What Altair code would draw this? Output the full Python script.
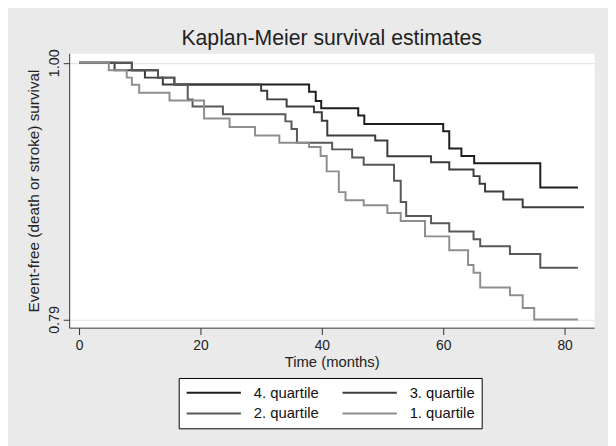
import altair as alt
import pandas as pd

groups = ["4. quartile", "3. quartile", "2. quartile", "1. quartile"]
colors = ["#1e1e1e", "#3c3c3c", "#585858", "#8e8e8e"]

q4_time = [0, 8.7, 13.0, 15.7, 37.9, 39.0, 39.9, 46.0, 47.0, 60.0, 61.0, 63.0, 65.1, 76.0, 82.2]
q4_surv = [1.0, 0.9939, 0.9879, 0.9822, 0.9763, 0.9688, 0.9628, 0.9570, 0.9499, 0.9440, 0.9299, 0.9238, 0.9178, 0.8980, 0.8980]

q3_time = [0, 5.85, 10.85, 13.8, 30.0, 31.0, 34.2, 38.7, 40.0, 40.9, 48.8, 50.8, 58.0, 61.0, 65.0, 66.0, 66.9, 69.9, 73.1, 83.2]
q3_surv = [1.0, 0.9939, 0.9879, 0.9822, 0.9771, 0.9701, 0.9642, 0.9596, 0.9527, 0.9406, 0.9365, 0.9236, 0.9186, 0.9127, 0.9073, 0.9010, 0.8948, 0.8881, 0.8818, 0.8818]

q2_time = [0, 8.7, 13.0, 15.7, 17.9, 18.7, 23.7, 34.0, 35.0, 35.9, 41.7, 45.0, 46.9, 51.9, 53.0, 53.9, 58.0, 61.0, 65.0, 66.1, 71.0, 76.0, 82.2]
q2_surv = [1.0, 0.9939, 0.9879, 0.9822, 0.9701, 0.9642, 0.9580, 0.9521, 0.9459, 0.9347, 0.9292, 0.9225, 0.9166, 0.9036, 0.8861, 0.8746, 0.8687, 0.8619, 0.8557, 0.8499, 0.8436, 0.8323, 0.8323]

q1_time = [0, 4.9, 7.85, 8.7, 9.9, 14.9, 20.6, 24.8, 29.0, 33.0, 37.9, 39.8, 40.8, 42.8, 43.9, 46.9, 50.8, 53.0, 57.0, 61.0, 64.1, 65.0, 66.1, 71.0, 73.1, 75.0, 82.2]
q1_surv = [1.0, 0.9939, 0.9879, 0.9820, 0.9755, 0.9691, 0.9545, 0.9475, 0.9406, 0.9347, 0.9311, 0.9238, 0.9112, 0.8942, 0.8875, 0.8834, 0.8772, 0.8705, 0.8580, 0.8467, 0.8346, 0.8283, 0.8162, 0.8099, 0.7994, 0.7900, 0.7900]

x_ticks = [0, 20, 40, 60, 80]
y_ticks = [0.79, 1.00]

rows = []
for g, ts, ss in zip(groups, [q4_time, q3_time, q2_time, q1_time], [q4_surv, q3_surv, q2_surv, q1_surv]):
    for t, s in zip(ts, ss):
        rows.append({"group": g, "time": t, "surv": s})
df = pd.DataFrame(rows)

FONT = "Liberation Sans"

chart = alt.Chart(df).mark_line(interpolate="step-after", strokeWidth=2).encode(
    x=alt.X("time:Q",
            scale=alt.Scale(domain=[-1.63, 84.88], nice=False, zero=False),
            axis=alt.Axis(title="Time (months)", values=x_ticks, format="d", grid=False,
                          domainColor="#333333", tickColor="#333333", tickSize=7,
                          labelFontSize=14, labelFont=FONT, labelColor="#222222", labelPadding=4,
                          labelFlush=False,
                          titleFontSize=15, titleFont=FONT, titleFontWeight="normal",
                          titleColor="#222222", titlePadding=2)),
    y=alt.Y("surv:Q",
            scale=alt.Scale(domain=[0.7833, 1.0078], nice=False, zero=False),
            axis=alt.Axis(title="Event-free (death or stroke) survival", values=y_ticks, format=".2f",
                          grid=True, gridColor="#e2e2e2", gridWidth=1,
                          domainColor="#333333", tickColor="#333333", tickSize=6,
                          labelAngle=270, labelAlign="center", labelBaseline="bottom",
                          labelFontSize=14.5, labelFont=FONT, labelColor="#222222", labelPadding=2,
                          titleFontSize=15.5, titleFont=FONT, titleFontWeight="normal",
                          titleColor="#222222", titlePadding=5)),
    color=alt.Color("group:N",
                    scale=alt.Scale(domain=groups, range=colors),
                    legend=alt.Legend(title=None, orient="none", legendX=111, legendY=329,
                                      direction="horizontal", columns=2,
                                      symbolType="stroke", symbolSize=3025,
                                      symbolStrokeWidth=2, clipHeight=16,
                                      labelFontSize=15, labelFont=FONT, labelColor="#111111",
                                      labelOffset=12, columnPadding=23, rowPadding=5, padding=7,
                                      strokeColor="black", fillColor="white")),
).properties(
    width=532,
    height=278,
    background="#eaeaea",
    padding={"left": 62, "top": 43, "right": 14, "bottom": 117},
    autosize=alt.AutoSizeParams(type="none"),
    title=alt.TitleParams("Kaplan-Meier survival estimates", fontSize=21.5, font=FONT,
                          fontWeight="normal", color="#222222", anchor="middle",
                          frame="group", offset=1, dy=2),
).configure_view(stroke="transparent", fill="white")

chart.save("out.html", embed_options={"renderer": "svg", "actions": False})
